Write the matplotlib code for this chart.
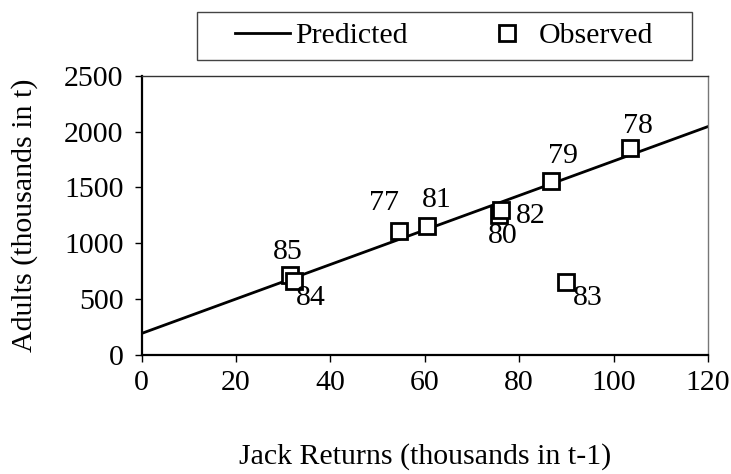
import matplotlib
matplotlib.use("Agg")
import matplotlib.pyplot as plt
from matplotlib.lines import Line2D
from matplotlib.patches import Rectangle

# Observed jack returns (t-1) vs adult returns (t), thousands
years = ["85", "84", "77", "81", "80", "82", "79", "78", "83"]
jacks = [31.5, 32.3, 54.6, 60.4, 75.8, 76.2, 86.8, 103.5, 90.0]
adults = [720, 661, 1107, 1158, 1250, 1300, 1553, 1851, 652]

# Fitted line: adults = intercept + slope * jacks
intercept = 193.0
slope = 15.43
x_fit = [0, 120]

x_ticks = [0, 20, 40, 60, 80, 100, 120]
y_ticks = [0, 500, 1000, 1500, 2000, 2500]

# label offsets in pixels (dx right, dy up)
label_offsets = {
    "85": (-3, 23), "84": (17, -17), "77": (-15, 28), "81": (10, 26),
    "80": (3, -21), "82": (29, -6), "79": (12, 25), "78": (8, 22),
    "83": (21, -16),
}

plt.rcParams["font.family"] = ["Liberation Serif", "DejaVu Serif"]
fs = 21.5

W, H = 731, 474
fig = plt.figure(figsize=(W / 100, H / 100), dpi=100)
ax = fig.add_axes([0.1938, 0.2511, 0.9685 - 0.1938, 0.8403 - 0.2511])

y_fit = [intercept + slope * x for x in x_fit]
ax.plot(x_fit, y_fit, color="black", lw=2.0, zorder=2)
ax.plot(jacks, adults, linestyle="none", marker="s", markersize=11,
        markerfacecolor="white", markeredgecolor="black", markeredgewidth=2.0,
        zorder=3)

px2pt = 0.72
for yr, xv, yv in zip(years, jacks, adults):
    dx, dy = label_offsets[yr]
    ax.annotate(yr, (xv, yv), xytext=(dx * px2pt, dy * px2pt),
                textcoords="offset points", ha="center", va="center",
                fontsize=fs, zorder=4)

ax.set_xlim(0, 120)
ax.set_ylim(0, 2500)
ax.set_xticks(x_ticks)
ax.set_yticks(y_ticks)
ax.tick_params(axis="both", direction="out", length=5, width=1,
               labelsize=fs, colors="black")
ax.tick_params(axis="x", pad=6)
ax.tick_params(axis="y", pad=8)

for side in ["left", "bottom"]:
    ax.spines[side].set_linewidth(1.6)
    ax.spines[side].set_color("black")
ax.spines["top"].set_linewidth(1.0)
ax.spines["top"].set_color("#333333")
ax.spines["right"].set_linewidth(1.0)
ax.spines["right"].set_color("#777777")

ax.set_xlabel("Jack Returns (thousands in t-1)", fontsize=fs, labelpad=34)
ax.set_ylabel("Adults (thousands in t)", fontsize=fs, labelpad=19)

# Legend box drawn separately so the horizontal padding can be wide
box_l, box_r, box_t, box_b = 197, 692, 12, 60
fig.patches.append(Rectangle((box_l / W, 1 - box_b / H),
                             (box_r - box_l) / W, (box_b - box_t) / H,
                             transform=fig.transFigure, fill=False,
                             edgecolor="#444444", linewidth=1.0))

handles = [
    Line2D([0], [0], color="black", lw=2.0),
    Line2D([0], [0], linestyle="none", marker="s", markersize=11,
           markerfacecolor="white", markeredgecolor="black",
           markeredgewidth=2.0),
]
fig.legend(handles, ["Predicted", "Observed"], loc="center",
           bbox_to_anchor=(444 / W, 1 - 36 / H), ncol=2, fontsize=fs,
           frameon=False, handlelength=1.86, handletextpad=0.15,
           columnspacing=2.4, borderpad=0.0)

fig.savefig("out.png", dpi=100)
